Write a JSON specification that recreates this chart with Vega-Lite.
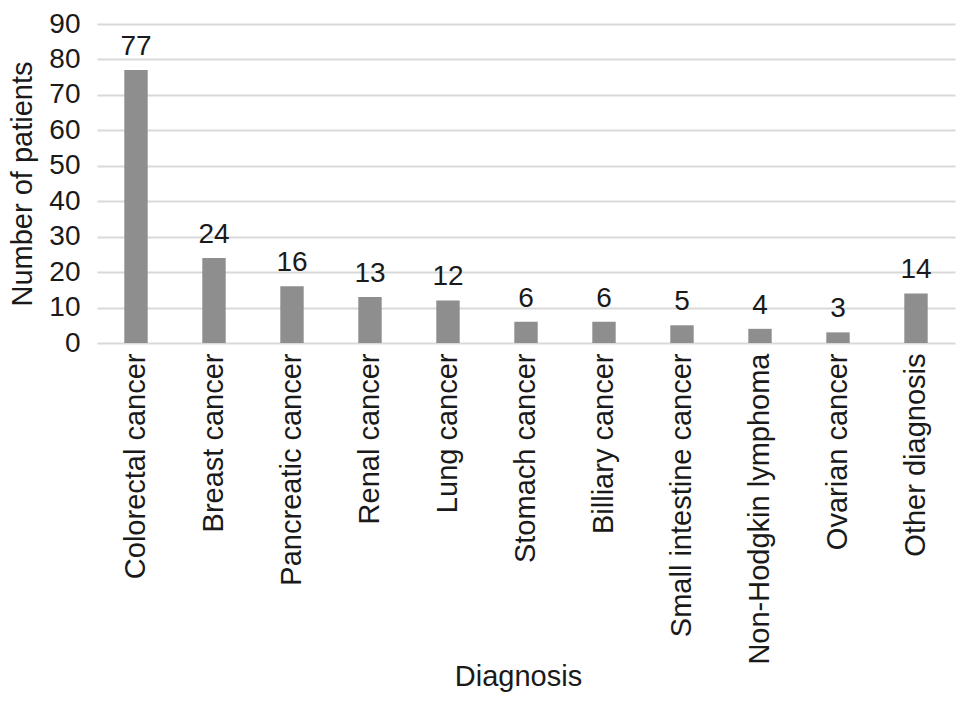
{
  "$schema": "https://vega.github.io/schema/vega-lite/v6.json",
  "autosize": {"type": "none"},
  "width": 858,
  "height": 319,
  "padding": {"left": 97, "top": 24, "right": 14, "bottom": 360},
  "background": "white",
  "config": {
    "font": "Liberation Sans",
    "view": {"stroke": null},
    "axis": {"labelFont": "Liberation Sans", "titleFont": "Liberation Sans", "labelColor": "#1a1a1a", "titleColor": "#1a1a1a", "titleFontWeight": "normal"}
  },
  "data": {
    "values": [
      {"diagnosis": "Colorectal cancer", "patients": 77},
      {"diagnosis": "Breast cancer", "patients": 24},
      {"diagnosis": "Pancreatic cancer", "patients": 16},
      {"diagnosis": "Renal cancer", "patients": 13},
      {"diagnosis": "Lung cancer", "patients": 12},
      {"diagnosis": "Stomach cancer", "patients": 6},
      {"diagnosis": "Billiary cancer", "patients": 6},
      {"diagnosis": "Small intestine cancer", "patients": 5},
      {"diagnosis": "Non-Hodgkin lymphoma", "patients": 4},
      {"diagnosis": "Ovarian cancer", "patients": 3},
      {"diagnosis": "Other diagnosis", "patients": 14}
    ]
  },
  "encoding": {
    "x": {
      "field": "diagnosis", "type": "nominal", "sort": null,
      "scale": {"paddingInner": 0.7, "paddingOuter": 0.35},
      "axis": {"title": "Diagnosis", "labelAngle": -90, "labelAlign": "right", "labelBaseline": "middle", "labelFontSize": 29, "titleFontSize": 29, "ticks": false, "domain": false, "labelPadding": 10, "titleY": 342, "titleX": 421, "titleBaseline": "alphabetic", "titleAlign": "center", "grid": false, "labelLimit": 400}
    },
    "y": {
      "field": "patients", "type": "quantitative",
      "scale": {"domain": [0, 90], "nice": false},
      "axis": {"title": "Number of patients", "values": [0, 10, 20, 30, 40, 50, 60, 70, 80, 90], "labelFontSize": 28, "titleFontSize": 29, "ticks": false, "domain": false, "labelPadding": 17, "titlePadding": 11, "grid": true, "gridColor": "#d9d9d9", "gridWidth": 2}
    }
  },
  "layer": [
    {"mark": {"type": "bar", "color": "#8e8e8e"}},
    {"mark": {"type": "text", "fontSize": 28, "dy": -15, "baseline": "alphabetic", "color": "#1a1a1a", "font": "Liberation Sans"}, "encoding": {"text": {"field": "patients", "type": "quantitative"}}}
  ]
}
